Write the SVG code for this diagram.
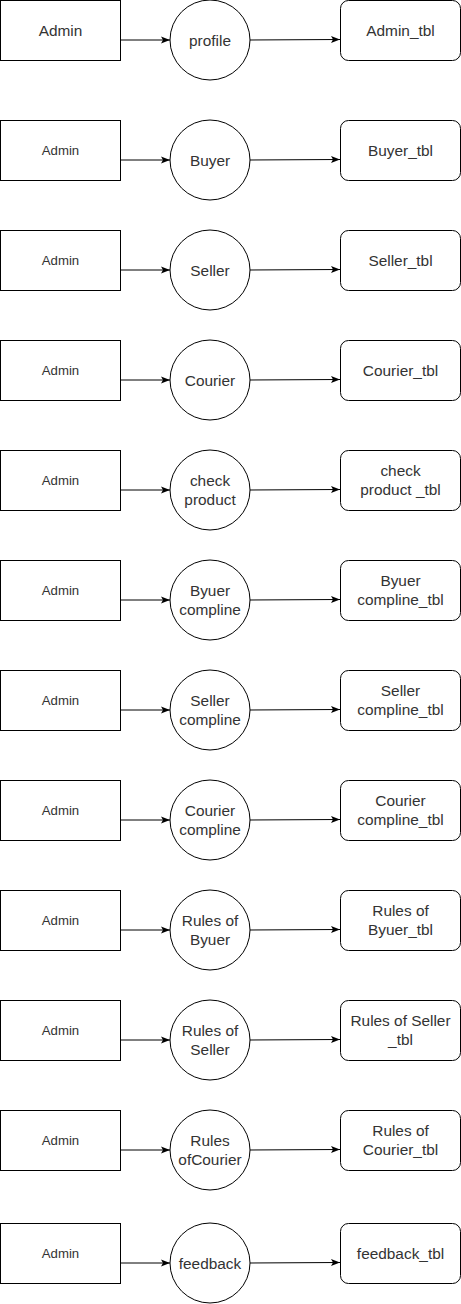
<svg xmlns="http://www.w3.org/2000/svg" width="461" height="1304" viewBox="0 0 461 1304">
<style>
.box{fill:#fff;stroke:#000;stroke-width:1}
.t{font-family:"Liberation Sans",Arial,sans-serif;font-size:15.4px;fill:#333;text-anchor:middle}
.s{font-family:"Liberation Sans",Arial,sans-serif;font-size:13.2px;fill:#333;text-anchor:middle}
.c{stroke:#000;stroke-width:1;fill:none;marker-end:url(#ah)}
</style>
<defs>
<marker id="ah" markerWidth="10" markerHeight="8" refX="9" refY="4" orient="auto" markerUnits="userSpaceOnUse">
<path d="M0,0.5 L9,4 L0,7.5 L2,4 Z" fill="#000"/>
</marker>
</defs>
<rect width="461" height="1304" fill="#fff"/>
<g id="connectors">
<line class="c" x1="120.5" y1="40" x2="170" y2="40"/><line class="c" x1="250" y1="40" x2="340" y2="39.5"/>
<line class="c" x1="120.5" y1="160" x2="170" y2="160"/><line class="c" x1="250" y1="160" x2="340" y2="159.5"/>
<line class="c" x1="120.5" y1="270" x2="170" y2="270"/><line class="c" x1="250" y1="270" x2="340" y2="269.5"/>
<line class="c" x1="120.5" y1="380" x2="170" y2="380"/><line class="c" x1="250" y1="380" x2="340" y2="379.5"/>
<line class="c" x1="120.5" y1="490" x2="170" y2="490"/><line class="c" x1="250" y1="490" x2="340" y2="489.5"/>
<line class="c" x1="120.5" y1="600" x2="170" y2="600"/><line class="c" x1="250" y1="600" x2="340" y2="599.5"/>
<line class="c" x1="120.5" y1="710" x2="170" y2="710"/><line class="c" x1="250" y1="710" x2="340" y2="709.5"/>
<line class="c" x1="120.5" y1="820" x2="170" y2="820"/><line class="c" x1="250" y1="820" x2="340" y2="819.5"/>
<line class="c" x1="120.5" y1="930" x2="170" y2="930"/><line class="c" x1="250" y1="930" x2="340" y2="929.5"/>
<line class="c" x1="120.5" y1="1040" x2="170" y2="1040"/><line class="c" x1="250" y1="1040" x2="340" y2="1039.5"/>
<line class="c" x1="120.5" y1="1150" x2="170" y2="1150"/><line class="c" x1="250" y1="1150" x2="340" y2="1149.5"/>
<line class="c" x1="120.5" y1="1263" x2="170" y2="1263"/><line class="c" x1="250" y1="1263" x2="340" y2="1262.5"/>
</g>

<g id="admin1"><rect class="box" x="0.5" y="0.5" width="120" height="60"/><text class="t" x="60.5" y="36">Admin</text></g>
<g id="profile"><circle class="box" cx="210" cy="40" r="40"/><text class="t" x="210" y="46">profile</text></g>
<g id="admin_tbl"><rect class="box" x="340.5" y="0.5" width="120" height="60" rx="8"/><text class="t" x="400.5" y="36">Admin_tbl</text></g>

<g id="admin2"><rect class="box" x="0.5" y="120.5" width="120" height="60"/><text class="s" x="60.5" y="155">Admin</text></g>
<g id="buyer"><circle class="box" cx="210" cy="160" r="40"/><text class="t" x="210" y="166">Buyer</text></g>
<g id="buyer_tbl"><rect class="box" x="340.5" y="120.5" width="120" height="60" rx="8"/><text class="t" x="400.5" y="156">Buyer_tbl</text></g>

<g id="admin3"><rect class="box" x="0.5" y="230.5" width="120" height="60"/><text class="s" x="60.5" y="265">Admin</text></g>
<g id="seller"><circle class="box" cx="210" cy="270" r="40"/><text class="t" x="210" y="276">Seller</text></g>
<g id="seller_tbl"><rect class="box" x="340.5" y="230.5" width="120" height="60" rx="8"/><text class="t" x="400.5" y="266">Seller_tbl</text></g>

<g id="admin4"><rect class="box" x="0.5" y="340.5" width="120" height="60"/><text class="s" x="60.5" y="375">Admin</text></g>
<g id="courier"><circle class="box" cx="210" cy="380" r="40"/><text class="t" x="210" y="386">Courier</text></g>
<g id="courier_tbl"><rect class="box" x="340.5" y="340.5" width="120" height="60" rx="8"/><text class="t" x="400.5" y="376">Courier_tbl</text></g>

<g id="admin5"><rect class="box" x="0.5" y="450.5" width="120" height="60"/><text class="s" x="60.5" y="485">Admin</text></g>
<g id="check_product"><circle class="box" cx="210" cy="490" r="40"/><text class="t" x="210" y="486">check</text><text class="t" x="210" y="505">product</text></g>
<g id="check_product_tbl"><rect class="box" x="340.5" y="450.5" width="120" height="60" rx="8"/><text class="t" x="400.5" y="476">check</text><text class="t" x="400.5" y="495">product _tbl</text></g>

<g id="admin6"><rect class="box" x="0.5" y="560.5" width="120" height="60"/><text class="s" x="60.5" y="595">Admin</text></g>
<g id="byuer_compline"><circle class="box" cx="210" cy="600" r="40"/><text class="t" x="210" y="596">Byuer</text><text class="t" x="210" y="615">compline</text></g>
<g id="byuer_compline_tbl"><rect class="box" x="340.5" y="560.5" width="120" height="60" rx="8"/><text class="t" x="400.5" y="586">Byuer</text><text class="t" x="400.5" y="605">compline_tbl</text></g>

<g id="admin7"><rect class="box" x="0.5" y="670.5" width="120" height="60"/><text class="s" x="60.5" y="705">Admin</text></g>
<g id="seller_compline"><circle class="box" cx="210" cy="710" r="40"/><text class="t" x="210" y="706">Seller</text><text class="t" x="210" y="725">compline</text></g>
<g id="seller_compline_tbl"><rect class="box" x="340.5" y="670.5" width="120" height="60" rx="8"/><text class="t" x="400.5" y="696">Seller</text><text class="t" x="400.5" y="715">compline_tbl</text></g>

<g id="admin8"><rect class="box" x="0.5" y="780.5" width="120" height="60"/><text class="s" x="60.5" y="815">Admin</text></g>
<g id="courier_compline"><circle class="box" cx="210" cy="820" r="40"/><text class="t" x="210" y="816">Courier</text><text class="t" x="210" y="835">compline</text></g>
<g id="courier_compline_tbl"><rect class="box" x="340.5" y="780.5" width="120" height="60" rx="8"/><text class="t" x="400.5" y="806">Courier</text><text class="t" x="400.5" y="825">compline_tbl</text></g>

<g id="admin9"><rect class="box" x="0.5" y="890.5" width="120" height="60"/><text class="s" x="60.5" y="925">Admin</text></g>
<g id="rules_byuer"><circle class="box" cx="210" cy="930" r="40"/><text class="t" x="210" y="926">Rules of</text><text class="t" x="210" y="945">Byuer</text></g>
<g id="rules_byuer_tbl"><rect class="box" x="340.5" y="890.5" width="120" height="60" rx="8"/><text class="t" x="400.5" y="916">Rules of</text><text class="t" x="400.5" y="935">Byuer_tbl</text></g>

<g id="admin10"><rect class="box" x="0.5" y="1000.5" width="120" height="60"/><text class="s" x="60.5" y="1035">Admin</text></g>
<g id="rules_seller"><circle class="box" cx="210" cy="1040" r="40"/><text class="t" x="210" y="1036">Rules of</text><text class="t" x="210" y="1055">Seller</text></g>
<g id="rules_seller_tbl"><rect class="box" x="340.5" y="1000.5" width="120" height="60" rx="8"/><text class="t" x="400.5" y="1026">Rules of Seller</text><text class="t" x="400.5" y="1045">_tbl</text></g>

<g id="admin11"><rect class="box" x="0.5" y="1110.5" width="120" height="60"/><text class="s" x="60.5" y="1145">Admin</text></g>
<g id="rules_courier"><circle class="box" cx="210" cy="1150" r="40"/><text class="t" x="210" y="1146">Rules</text><text class="t" x="210" y="1165">ofCourier</text></g>
<g id="rules_courier_tbl"><rect class="box" x="340.5" y="1110.5" width="120" height="60" rx="8"/><text class="t" x="400.5" y="1136">Rules of</text><text class="t" x="400.5" y="1155">Courier_tbl</text></g>

<g id="admin12"><rect class="box" x="0.5" y="1223.5" width="120" height="60"/><text class="s" x="60.5" y="1258">Admin</text></g>
<g id="feedback"><circle class="box" cx="210" cy="1263" r="40"/><text class="t" x="210" y="1269">feedback</text></g>
<g id="feedback_tbl"><rect class="box" x="340.5" y="1223.5" width="120" height="60" rx="8"/><text class="t" x="400.5" y="1259">feedback_tbl</text></g>
</svg>
